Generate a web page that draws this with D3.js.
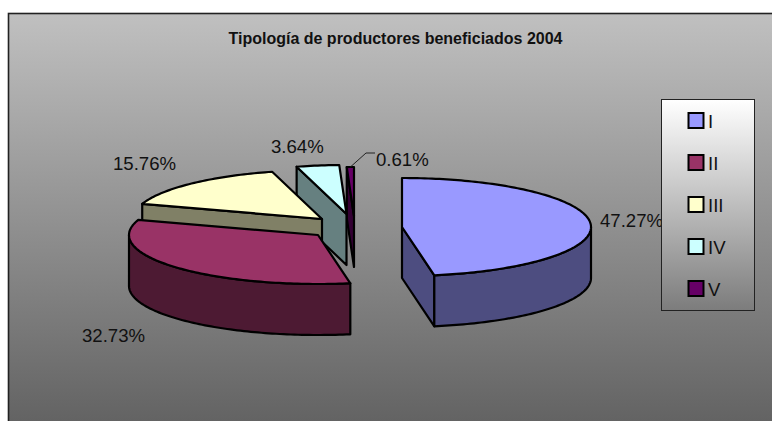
<!DOCTYPE html>
<html><head><meta charset="utf-8">
<script src="https://cdnjs.cloudflare.com/ajax/libs/d3/7.8.5/d3.min.js"></script>
<style>html,body{margin:0;padding:0;background:#fff}svg{display:block}text{font-family:"Liberation Sans",Arial,sans-serif;fill:#111}</style>
</head><body><svg id="c" width="772" height="421"></svg>
<script>
const categories = ["I","II","III","IV","V"];
const values = [47.27,32.73,15.76,3.64,0.61];
const valueLabels = ["47.27%","32.73%","15.76%","3.64%","0.61%"];
const topColors = ["#9999FF","#993366","#FFFFCC","#CCFFFF","#660066"];
const wallColors = ["#4D4D80","#4D1A33","#808066","#668080","#330033"];
const titleText = "Tipología de productores beneficiados 2004";

// layout only
const centers = [[402,227],[318,235],[322,219],[346.5,214],[354,216]];
const labelPos = [[600,227],[82,342],[113,170],[271,153],[376,166]];
const RX=189, RY=49, DEPTH=51;

const svg=d3.select("#c");
const defs=svg.append("defs");
function grad(id,stops){const g=defs.append("linearGradient").attr("id",id).attr("x1",0).attr("y1",0).attr("x2",0).attr("y2",1);
  stops.forEach(([o,c])=>g.append("stop").attr("offset",o).attr("stop-color",c));}
grad("bg",[[0,"#c0c0c0"],[1,"#5e5e5e"]]);
grad("lg",[[0,"#ffffff"],[1,"#7c7c7c"]]);

svg.append("rect").attr("x",8.5).attr("y",13.5).attr("width",790).attr("height",430)
  .attr("fill","url(#bg)").attr("stroke","#222").attr("stroke-width",1.6);
svg.append("text").attr("x",395.5).attr("y",44).attr("text-anchor","middle")
  .attr("font-weight","bold").attr("font-size",16).text(titleText);

const arcs=d3.pie().sort(null).value(d=>d)(values);
const pt=(c,a,dy=0)=>[c[0]+RX*Math.sin(a),c[1]-RY*Math.cos(a)+dy];
const line=d3.line();
const sample=(c,a0,a1,dy=0)=>{const n=Math.max(2,Math.ceil(Math.abs(a1-a0)/0.02));
  return d3.range(n+1).map(i=>pt(c,a0+(a1-a0)*i/n,dy));};

const order=[4,3,2,1,0];
const gp=svg.append("g").attr("stroke","#000").attr("stroke-width",2.2).attr("stroke-linejoin","round");
order.forEach(i=>{
  const s=arcs[i],c=centers[i],a0=s.startAngle,a1=s.endAngle;
  const g=gp.append("g"), wall=wallColors[i];
  const face=(a)=>g.append("path").attr("fill",wall)
    .attr("d",line([c,pt(c,a),pt(c,a,DEPTH),[c[0],c[1]+DEPTH]])+"Z");
  if(Math.sin(a0)<-1e-6) face(a0);
  if(Math.sin(a1)>1e-6) face(a1);
  const lo=Math.max(a0,Math.PI/2), hi=Math.min(a1,3*Math.PI/2);
  if(hi>lo){
    g.append("path").attr("fill",wall)
     .attr("d",line(sample(c,lo,hi).concat(sample(c,hi,lo,DEPTH)))+"Z");
  }
  g.append("path").attr("fill",topColors[i])
   .attr("d",line([c].concat(sample(c,a0,a1)))+"Z");
});

// labels
valueLabels.forEach((t,i)=>{
  svg.append("text").attr("x",labelPos[i][0]).attr("y",labelPos[i][1]).attr("font-size",18.6).text(t);
});
svg.append("path").attr("fill","none").attr("stroke","#222").attr("stroke-width",1)
  .attr("d",line([pt(centers[4],(arcs[4].startAngle+arcs[4].endAngle)/2),[366,153],[375,153]]));

// legend
svg.append("rect").attr("x",661.5).attr("y",99.5).attr("width",93).attr("height",211)
  .attr("fill","url(#lg)").attr("stroke","#222").attr("stroke-width",1);
const yL=d3.scalePoint().domain(categories).range([121,289]);
categories.forEach((k,i)=>{
  svg.append("rect").attr("x",688.5).attr("y",yL(k)-8).attr("width",15).attr("height",15)
    .attr("fill",topColors[i]).attr("stroke","#000").attr("stroke-width",2);
  svg.append("text").attr("x",708).attr("y",yL(k)+6.5).attr("font-size",18.6).text(k);
});
</script></body></html>
